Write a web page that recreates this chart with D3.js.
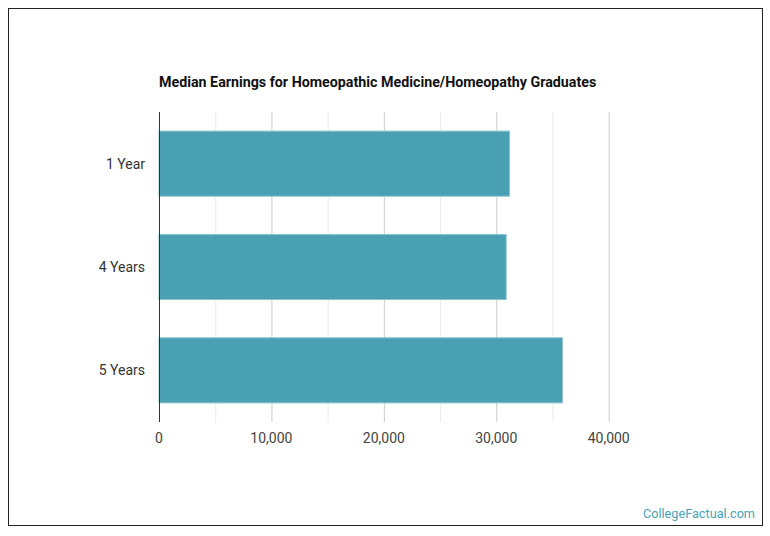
<!DOCTYPE html>
<html lang="en">
<head>
<meta charset="UTF-8">
<title>Median Earnings</title>
<script src="https://d3js.org/d3.v7.min.js"></script>
<style>
    body { margin: 0; background: #fff; }
    text { font-family: Roboto, sans-serif; }
</style>
</head>
<body>
<div id="chart"></div>
<script>
    // Chart data
    const categories = ["1 Year", "4 Years", "5 Years"];
    const earnings = [31170, 30880, 35890];
    const tickValues = [0, 10000, 20000, 30000, 40000];

    const width = 770, height = 536;
    const margin = { top: 112, right: 154, bottom: 114, left: 159 };

    const svg = d3.select("#chart").append("svg")
        .attr("width", width)
        .attr("height", height);

    // outer frame
    svg.append("rect")
        .attr("x", 8.5).attr("y", 8.5)
        .attr("width", 754).attr("height", 517)
        .attr("fill", "#fff")
        .attr("stroke", "#222")
        .attr("stroke-width", 1);

    svg.append("text")
        .attr("x", 159).attr("y", 87)
        .attr("font-size", 14.25)
        .attr("font-weight", "bold")
        .attr("fill", "#111")
        .text("Median Earnings for Homeopathic Medicine/Homeopathy Graduates");

    const x = d3.scaleLinear()
        .domain([0, 40000])
        .range([margin.left, 608.7]);

    const y = d3.scaleBand()
        .domain(categories)
        .range([margin.top, height - margin.bottom])
        .paddingInner(0.37)
        .paddingOuter(0.185);

    // grid lines: minor at 5,000, major at 10,000
    const minor = d3.range(5000, 40000, 10000);
    svg.append("g").selectAll("line")
        .data(minor)
        .join("line")
        .attr("x1", d => x(d) + 0.5).attr("x2", d => x(d) + 0.5)
        .attr("y1", margin.top).attr("y2", height - margin.bottom)
        .attr("stroke", "#ebebeb");

    svg.append("g").selectAll("line")
        .data(tickValues.slice(1))
        .join("line")
        .attr("x1", d => x(d) + 0.5).attr("x2", d => x(d) + 0.5)
        .attr("y1", margin.top).attr("y2", height - margin.bottom)
        .attr("stroke", "#cccccc");

    // bars
    svg.append("g").selectAll("rect")
        .data(earnings)
        .join("rect")
        .attr("x", x(0))
        .attr("y", (d, i) => y(categories[i]))
        .attr("width", d => x(d) - x(0))
        .attr("height", y.bandwidth())
        .attr("fill", "#4aa0b3")
        .attr("stroke", "#8cc4d0")
        .attr("stroke-width", 1);

    // baseline
    svg.append("line")
        .attr("x1", x(0) + 0.5).attr("x2", x(0) + 0.5)
        .attr("y1", margin.top).attr("y2", height - margin.bottom)
        .attr("stroke", "#333");

    // category labels
    svg.append("g").selectAll("text")
        .data(categories)
        .join("text")
        .attr("x", 145)
        .attr("y", d => y(d) + y.bandwidth() / 2)
        .attr("dy", "0.35em")
        .attr("text-anchor", "end")
        .attr("font-size", 14)
        .attr("fill", "#333")
        .text(d => d);

    // value axis labels
    svg.append("g").selectAll("text")
        .data(tickValues)
        .join("text")
        .attr("x", d => x(d))
        .attr("y", 443)
        .attr("text-anchor", "middle")
        .attr("font-size", 14)
        .attr("fill", "#444")
        .text(d => d3.format(",")(d));

    svg.append("text")
        .attr("x", 755).attr("y", 518)
        .attr("text-anchor", "end")
        .attr("font-size", 12.7)
        .attr("fill", "#4aa3b5")
        .text("CollegeFactual.com");
</script>
</body>
</html>
